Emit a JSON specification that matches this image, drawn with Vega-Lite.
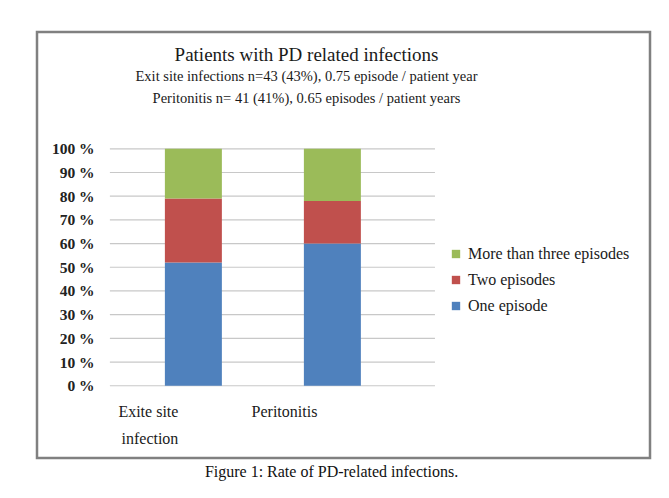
{
  "$schema": "https://vega.github.io/schema/vega-lite/v6.json",
  "width": 613,
  "height": 426,
  "autosize": {"type": "none"},
  "padding": {"left": 37, "top": 32, "right": 19, "bottom": 40},
  "background": "white",
  "config": {
    "view": {"stroke": "#808080", "strokeWidth": 2.5},
    "font": "Times New Roman, Liberation Serif, serif",
    "title": {"font": "Times New Roman, Liberation Serif, serif", "subtitleFont": "Times New Roman, Liberation Serif, serif"},
    "axis": {"labelFont": "Times New Roman, Liberation Serif, serif", "titleFont": "Times New Roman, Liberation Serif, serif"},
    "legend": {"labelFont": "Times New Roman, Liberation Serif, serif"}
  },
  "title": {
    "text": "Patients with PD related infections",
    "subtitle": ["Exit site infections n=43 (43%), 0.75 episode / patient year", "Peritonitis n= 41 (41%), 0.65 episodes / patient years"],
    "fontSize": 19,
    "fontWeight": "normal",
    "color": "#1a1a1a",
    "subtitleFontSize": 14.5,
    "subtitleColor": "#1a1a1a",
    "subtitlePadding": 5,
    "subtitleLineHeight": 22,
    "anchor": "middle",
    "dx": -37,
    "offset": -73
  },
  "datasets": {
    "bars": [
      {"category": "Exite site infection", "series": "One episode", "rank": 1, "pct": 52},
      {"category": "Exite site infection", "series": "Two episodes", "rank": 2, "pct": 27},
      {"category": "Exite site infection", "series": "More than three episodes", "rank": 3, "pct": 21},
      {"category": "Peritonitis", "series": "One episode", "rank": 1, "pct": 60},
      {"category": "Peritonitis", "series": "Two episodes", "rank": 2, "pct": 18},
      {"category": "Peritonitis", "series": "More than three episodes", "rank": 3, "pct": 22}
    ],
    "grid": [
      {"level": 0}, {"level": 10}, {"level": 20}, {"level": 30}, {"level": 40}, {"level": 50},
      {"level": 60}, {"level": 70}, {"level": 80}, {"level": 90}, {"level": 100}
    ]
  },
  "layer": [
    {
      "data": {"name": "grid"},
      "mark": {"type": "rule", "color": "#c8c8c8", "strokeWidth": 1.2},
      "encoding": {
        "y": {
          "field": "level",
          "type": "quantitative",
          "scale": {"domain": [-30.5, 149.3], "nice": false, "zero": false},
          "axis": {
            "values": [0, 10, 20, 30, 40, 50, 60, 70, 80, 90, 100],
            "labelExpr": "datum.value + ' %'",
            "grid": false,
            "domain": false,
            "ticks": false,
            "tickSize": 0,
            "offset": -57,
            "labelPadding": 0,
            "labelFontSize": 15.5,
            "labelFontWeight": "bold",
            "labelColor": "#222222",
            "title": null
          }
        },
        "x": {
          "datum": "Exite site infection",
          "type": "nominal",
          "bandPosition": -0.965,
          "scale": {"domain": ["Exite site infection", "Peritonitis", " ", "  "], "paddingInner": 0.59, "paddingOuter": 0.5, "align": 0.92}
        },
        "x2": {"datum": "Peritonitis", "bandPosition": 2.3}
      }
    },
    {
      "data": {"name": "bars"},
      "mark": {"type": "bar"},
      "encoding": {
        "x": {
          "field": "category",
          "type": "nominal",
          "scale": {"domain": ["Exite site infection", "Peritonitis", " ", "  "], "paddingInner": 0.59, "paddingOuter": 0.5, "align": 0.92},
          "axis": {
            "orient": "bottom",
            "offset": -65,
            "values": ["Exite site infection", "Peritonitis"],
            "domain": false,
            "ticks": false,
            "labelAngle": 0,
            "labelPadding": 18,
            "labelOffset": -15,
            "labelFontSize": 16,
            "labelColor": "#1a1a1a",
            "labelLineHeight": 27,
            "labelExpr": "datum.label == 'Exite site infection' ? ['Exite site', 'infection'] : datum.label",
            "title": "Figure 1: Rate of PD-related infections.",
            "titleFontSize": 16,
            "titleFontWeight": "normal",
            "titleColor": "#111111",
            "titlePadding": 17,
            "titleX": 294
          }
        },
        "y": {"field": "pct", "type": "quantitative", "stack": "zero"},
        "order": {"field": "rank", "type": "quantitative"},
        "color": {
          "field": "series",
          "type": "nominal",
          "scale": {
            "domain": ["More than three episodes", "Two episodes", "One episode"],
            "range": ["#9bbb59", "#c0504d", "#4f81bd"]
          },
          "legend": {
            "orient": "none",
            "legendX": 411,
            "legendY": 214,
            "title": null,
            "symbolType": "square",
            "symbolSize": 70,
            "symbolStrokeWidth": 0,
            "labelFontSize": 16,
            "labelLimit": 300,
            "labelColor": "#1a1a1a",
            "rowPadding": 10,
            "labelOffset": 4
          }
        }
      }
    }
  ]
}
